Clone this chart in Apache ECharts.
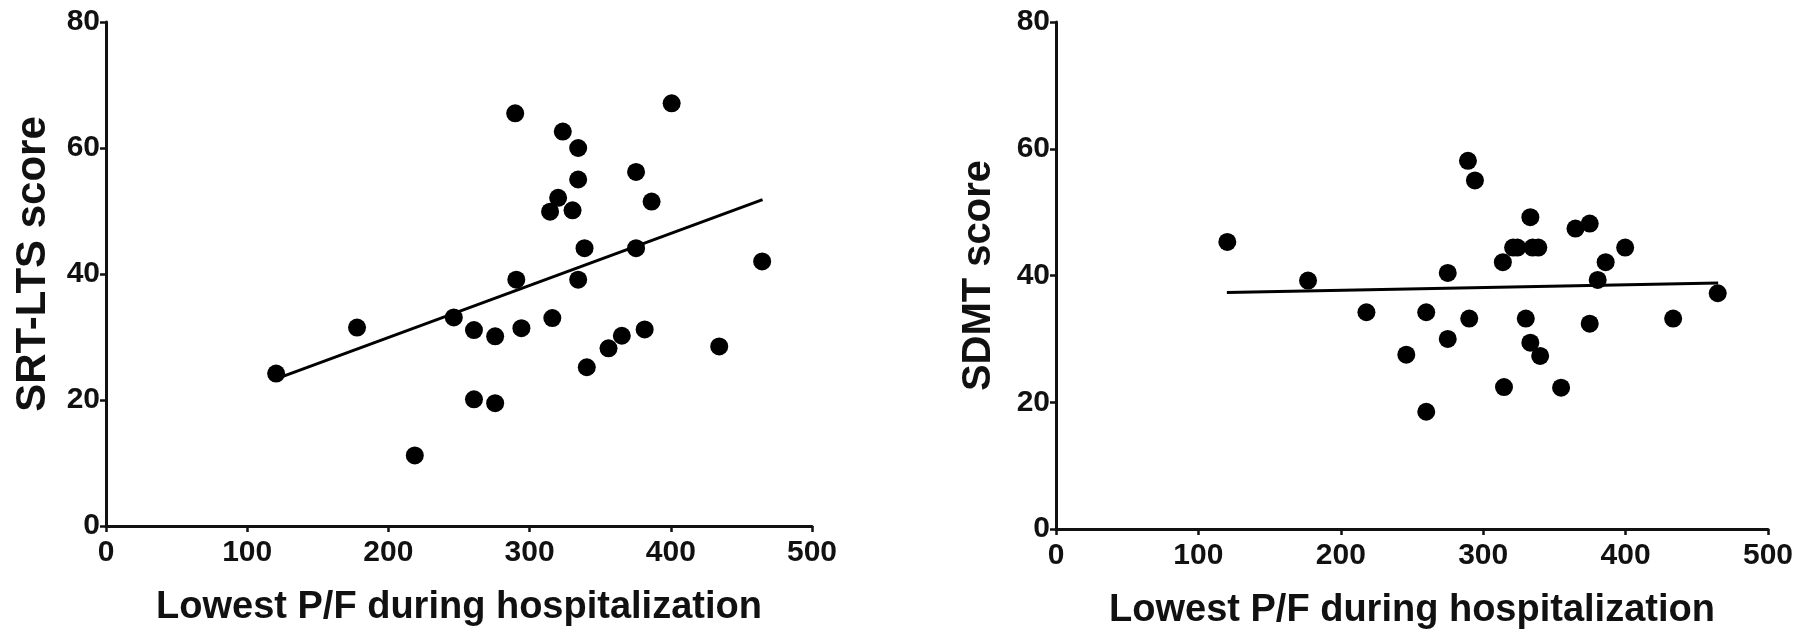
<!DOCTYPE html>
<html>
<head>
<meta charset="utf-8">
<script src="https://cdn.jsdelivr.net/npm/echarts@6/dist/echarts.min.js"></script>
<style>
  html, body { margin: 0; padding: 0; background: #ffffff; }
  #chart { width: 1798px; height: 635px; }
</style>
</head>
<body>
<div id="chart"></div>
<script>
// Lowest P/F ratio during hospitalization against two cognitive test scores.

// SRT-LTS panel
const srtPF    = [120.5, 177.8, 218.7, 246.3, 260.6, 260.6, 275.6, 275.6, 289.8, 290.6,
                  294.2, 314.5, 316.1, 320.2, 323.5, 330.4, 334.4, 334.4, 334.4, 338.9,
                  340.5, 355.9, 365.3, 375.4, 375.4, 381.5, 386.4, 400.6, 434.3, 464.7];
const srtScore = [24.2, 31.5, 11.2, 33.1, 31.1, 20.1, 30.1, 19.5, 65.5, 39.1,
                  31.4, 49.9, 33.0, 52.1, 62.6, 50.1, 60.0, 55.0, 39.1, 44.1,
                  25.2, 28.2, 30.2, 56.2, 44.1, 31.2, 51.5, 67.1, 28.5, 42.0];
const srtFitPF    = [120, 465];
const srtFitScore = [23.3, 51.8];

// SDMT panel
const sdmtPF    = [120.3, 177.0, 218.0, 246.0, 260.0, 260.0, 275.1, 275.1, 289.3, 290.2,
                   294.2, 313.8, 314.6, 321.0, 324.0, 329.9, 333.1, 333.1, 334.7, 338.7,
                   340.0, 354.7, 364.8, 374.8, 374.8, 380.4, 386.0, 399.7, 433.4, 464.7];
const sdmtScore = [45.3, 39.2, 34.2, 27.5, 34.2, 18.5, 40.4, 30.0, 58.1, 33.2,
                   55.0, 42.1, 22.4, 44.4, 44.4, 33.2, 49.2, 29.4, 44.4, 44.4,
                   27.3, 22.3, 47.4, 48.2, 32.4, 39.3, 42.1, 44.4, 33.2, 37.2];
const sdmtFitPF    = [120, 465];
const sdmtFitScore = [37.3, 38.8];

// Axis setup
const pfRange    = { min: 0, max: 500, interval: 100 };
const scoreRange = { min: 0, max: 80, interval: 20 };
const xTitle = 'Lowest P/F during hospitalization';
const yTitles = ['SRT-LTS score', 'SDMT score'];

const INK = '#111111';
const FONT = "'Liberation Sans', Arial, Helvetica, sans-serif";

const zip = (xs, ys) => xs.map((x, i) => [x, ys[i]]);

function xAxisFor(gridIndex) {
  return {
    type: 'value', gridIndex,
    min: pfRange.min, max: pfRange.max, interval: pfRange.interval,
    name: xTitle, nameLocation: 'middle', nameGap: 63,
    nameTextStyle: { color: INK, fontFamily: FONT, fontWeight: 'bold', fontSize: 38 },
    axisLine: { show: true, onZero: false, lineStyle: { color: INK, width: 3 } },
    axisTick: { show: true, inside: false, length: 6, lineStyle: { color: INK, width: 2.5 } },
    axisLabel: { color: INK, fontFamily: FONT, fontWeight: 'bold', fontSize: 30, margin: 12 },
    splitLine: { show: false }
  };
}

function yAxisFor(gridIndex, title, size, gap, shift) {
  return {
    type: 'value', gridIndex,
    min: scoreRange.min, max: scoreRange.max, interval: scoreRange.interval,
    name: title, nameLocation: 'middle', nameGap: gap, nameRotate: 90,
    nameTextStyle: {
      color: INK, fontFamily: FONT, fontWeight: 'bold', fontSize: size,
      padding: [0, 0, 0, shift]
    },
    axisLine: { show: true, onZero: false, lineStyle: { color: INK, width: 3 } },
    axisTick: { show: true, inside: false, length: 6, lineStyle: { color: INK, width: 2.5 } },
    axisLabel: { color: INK, fontFamily: FONT, fontWeight: 'bold', fontSize: 30, margin: 6 },
    splitLine: { show: false }
  };
}

function dots(index, data) {
  return {
    type: 'scatter', xAxisIndex: index, yAxisIndex: index,
    data, symbol: 'circle', symbolSize: 18,
    itemStyle: { color: '#000000', opacity: 1 }, z: 3, silent: true
  };
}

function fit(index, data) {
  return {
    type: 'line', xAxisIndex: index, yAxisIndex: index,
    data, showSymbol: false, symbol: 'none',
    lineStyle: { color: '#000000', width: 3 }, z: 2, silent: true
  };
}

const chart = echarts.init(document.getElementById('chart'), null, { renderer: 'canvas' });
chart.setOption({
  backgroundColor: '#ffffff',
  animation: false,
  grid: [
    { left: 106, top: 22, width: 706, height: 504 },
    { left: 1056, top: 22, width: 712, height: 508 }
  ],
  xAxis: [xAxisFor(0), xAxisFor(1)],
  yAxis: [yAxisFor(0, yTitles[0], 42, 52, 20), yAxisFor(1, yTitles[1], 40, 57, 0)],
  series: [
    fit(0, zip(srtFitPF, srtFitScore)),
    dots(0, zip(srtPF, srtScore)),
    fit(1, zip(sdmtFitPF, sdmtFitScore)),
    dots(1, zip(sdmtPF, sdmtScore))
  ]
});
</script>
</body>
</html>
